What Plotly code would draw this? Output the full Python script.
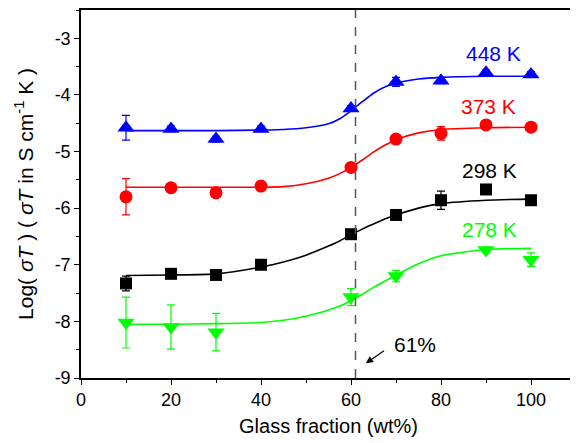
import plotly.graph_objects as go

# ---- data ----
x_main = [10, 20, 30, 40, 60, 70, 80, 90, 100]
x_green = [10, 20, 30, 60, 70, 90, 100]

y_448 = [-4.58, -4.60, -4.78, -4.60, -4.24, -3.77, -3.75, -3.61, -3.64]
e_448 = [0.22, 0.05, 0.05, 0.05, 0.05, 0.08, 0.05, 0.05, 0.05]
y_373 = [-5.80, -5.64, -5.73, -5.61, -5.28, -4.78, -4.68, -4.53, -4.57]
e_373 = [0.32, 0.03, 0.06, 0.03, 0.03, 0.05, 0.12, 0.03, 0.03]
y_298 = [-7.33, -7.16, -7.18, -7.00, -6.46, -6.12, -5.86, -5.67, -5.86]
e_298 = [0.13, 0.03, 0.03, 0.05, 0.03, 0.03, 0.16, 0.03, 0.03]
y_278 = [-8.02, -8.10, -8.19, -7.57, -7.20, -6.74, -6.91]
e_278 = [0.45, 0.39, 0.33, 0.15, 0.10, 0.05, 0.12]

# fitted curves
x_fit = [10, 20, 30, 40, 45, 50, 55, 57.5, 60, 62.5, 65, 67.5, 70, 75, 80, 90, 100]
fit_448 = [-4.63, -4.63, -4.63, -4.62, -4.61, -4.58, -4.51, -4.42, -4.28, -4.12, -3.97, -3.86, -3.79, -3.72, -3.69, -3.67, -3.67]
fit_373 = [-5.63, -5.63, -5.63, -5.63, -5.62, -5.57, -5.47, -5.39, -5.28, -5.15, -5.01, -4.89, -4.79, -4.67, -4.61, -4.58, -4.57]
fit_298 = [-7.19, -7.18, -7.16, -7.04, -6.95, -6.83, -6.67, -6.58, -6.47, -6.37, -6.28, -6.19, -6.12, -6.00, -5.92, -5.86, -5.84]
fit_278 = [-8.05, -8.05, -8.04, -8.02, -7.98, -7.91, -7.80, -7.73, -7.63, -7.52, -7.40, -7.29, -7.18, -6.98, -6.84, -6.73, -6.71]

labels = ["448 K", "373 K", "298 K", "278 K"]
label_x = [91.6, 90.6, 90.8, 90.8]
label_y = [-3.26, -4.21, -5.33, -6.37]

glass_transition = 61
x_ticks = [0, 20, 40, 60, 80, 100]
x_ticktext = ["0", "20", "40", "60", "80", "100"]
y_ticks = [-9, -8, -7, -6, -5, -4, -3]
y_ticktext = ["-9", "-8", "-7", "-6", "-5", "-4", "-3"]

colors = ["#0000ff", "#ff0000", "#000000", "#00ff00"]
symbols = ["triangle-up", "circle", "square", "triangle-down"]
sizes = [15, 13, 12, 15]

FONT = "Liberation Sans, Arial, sans-serif"

series = [
    (x_main, y_448, e_448, fit_448),
    (x_main, y_373, e_373, fit_373),
    (x_main, y_298, e_298, fit_298),
    (x_green, y_278, e_278, fit_278),
]

fig = go.Figure()
for (xs, ys, es, fit), c, s, sz in zip(series, colors, symbols, sizes):
    fig.add_trace(go.Scatter(x=x_fit, y=fit, mode="lines",
                             line=dict(color=c, width=1.6, shape="spline", smoothing=0.6),
                             showlegend=False, hoverinfo="skip"))
    fig.add_trace(go.Scatter(x=xs, y=ys, mode="markers",
                             marker=dict(color=c, symbol=s, size=sz),
                             error_y=dict(type="data", array=es, color=c, thickness=1.2, width=4),
                             showlegend=False))

for t, lx, ly, c in zip(labels, label_x, label_y, colors):
    fig.add_annotation(x=lx, y=ly, text=t, showarrow=False,
                       font=dict(size=21, color=c, family=FONT))

fig.add_shape(type="line", x0=glass_transition, x1=glass_transition, y0=0, y1=1,
              xref="x", yref="paper", line=dict(color="#555555", width=1.5, dash="dash"))

fig.add_annotation(x=63.3, y=-8.74, ax=68, ay=-8.48, xref="x", yref="y",
                   axref="x", ayref="y", text=" ", showarrow=True,
                   arrowhead=2, arrowsize=1.2, arrowwidth=1.2, arrowcolor="black")
fig.add_annotation(x=74.2, y=-8.4, text=f"{glass_transition}%", showarrow=False,
                   font=dict(size=21, color="black", family=FONT))

axis_common = dict(showline=True, linecolor="black", linewidth=1.5, mirror=True,
                   ticks="outside", ticklen=5, tickwidth=1.3, tickcolor="black",
                   showgrid=False, zeroline=False,
                   tickfont=dict(size=18, color="black", family=FONT))

fig.update_xaxes(range=[0, 110], tickvals=x_ticks, ticktext=x_ticktext,
                 minor=dict(ticks="outside", ticklen=3, tickwidth=1.2, tickcolor="black", dtick=10, tick0=0),
                 title=dict(text="Glass fraction (wt%)", standoff=10,
                            font=dict(size=20, color="black", family=FONT)),
                 **axis_common)
fig.update_yaxes(range=[-9, -2.5], tickvals=y_ticks, ticktext=y_ticktext,
                 minor=dict(ticks="outside", ticklen=3, tickwidth=1.2, tickcolor="black", dtick=0.5, tick0=0),
                 title=dict(text="Log( <i>σT</i> ) ( <i>σT</i> in S cm<sup>-1</sup> K )", standoff=15,
                            font=dict(size=21, color="black", family=FONT)),
                 **axis_common)

# the page body adds an 8 px margin, so the figure is sized to fit inside the window
fig.update_layout(width=570, height=435, plot_bgcolor="white", paper_bgcolor="white",
                  margin=dict(l=73, r=1, t=0, b=65), showlegend=False)

fig.write_html("out.html")
